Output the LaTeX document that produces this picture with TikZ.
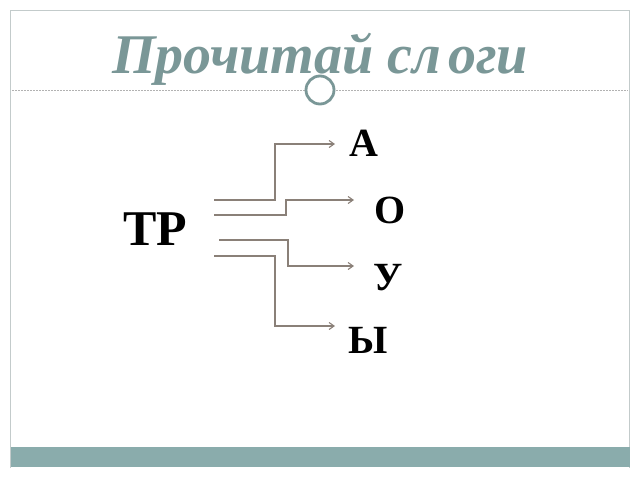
\documentclass[tikz,border=0pt]{standalone}
\usepackage{fontspec}
\setmainfont{Liberation Serif}
\usetikzlibrary{arrows.meta,positioning}
\definecolor{slate}{HTML}{7A9797}
\definecolor{band}{HTML}{8AACAC}
\definecolor{wire}{HTML}{8A8078}
\definecolor{rim}{HTML}{C3CBCB}
\tikzset{
    link/.style={-{Straight Barb[length=5pt, width=7pt]}, wire, line width=1.1pt},
    letter/.style={font=\fontsize{40}{40}\selectfont\bfseries, inner sep=0pt, anchor=base},
    headline/.style={font=\fontsize{56}{56}\selectfont\bfseries\itshape, text=slate, inner sep=0pt, anchor=base},
    rule/.style={draw=gray!60, line width=0.6pt, dash pattern=on 2pt off 1pt}
}

\begin{document}
\begin{tikzpicture}[x=1pt, y=-1pt]
            \useasboundingbox (0,0) rectangle (640,480);
            \fill[white] (0,0) rectangle (640,480);
            % slide frame and footer band
            \draw[rim, line width=1pt] (10.5,468) -- (10.5,10.5) -- (629.5,10.5) -- (629.5,468);
            \fill[band] (10.5,447) rectangle (629.5,467);
            % title with rule and ring
            \node[headline] (title) at (320,73) {Прочитай сл\kern7pt оги};
            \draw[rule] (12,90) -- (628,90);
            \node[circle, draw=slate, line width=2.8pt, fill=white, minimum size=28pt, inner sep=0pt] (ring) at (320,90) {};
            % letters
            \node[letter, font=\fontsize{50}{50}\selectfont\bfseries] (tr) at (155.5,245) {ТР};
            \node[letter] (a) at (364,156) {А};
            \node[letter] (o) at (390.5,223) {О};
            \node[letter] (u) at (388,290) {У};
            \node[letter] (y) at (368.5,353) {Ы};
            % wire ends
            \coordinate (s1) at (214,200);
            \coordinate (s2) at (214,215);
            \coordinate (s3) at (219,240);
            \coordinate (s4) at (214,256);
            \coordinate (t1) at (335,144);
            \coordinate (t2) at (354,200);
            \coordinate (t3) at (354,266);
            \coordinate (t4) at (335,326);
            \draw[link] (s1) -- ++(61,0) |- (t1);
            \draw[link] (s2) -- ++(72,0) |- (t2);
            \draw[link] (s3) -- ++(69,0) |- (t3);
            \draw[link] (s4) -- ++(61,0) |- (t4);
\end{tikzpicture}
\end{document}
